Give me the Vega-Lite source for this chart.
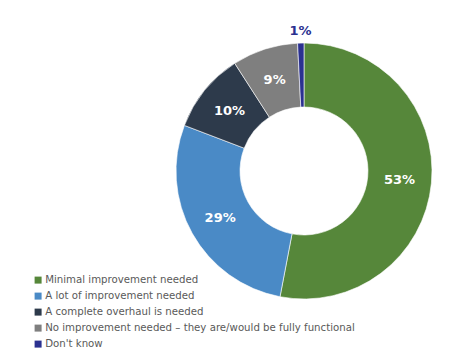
{
  "$schema": "https://vega.github.io/schema/vega-lite/v6.json",
  "width": 256,
  "height": 256,
  "autosize": {"type": "none"},
  "padding": {"left": 176, "top": 43, "right": 38, "bottom": 59},
  "background": "#ffffff",
  "config": {"view": {"stroke": null}},
  "data": {
    "values": [
      {"cat": "Minimal improvement needed", "value": 53, "label": "53%", "order": 1},
      {"cat": "A lot of improvement needed", "value": 27.8, "label": "29%", "order": 2},
      {"cat": "A complete overhaul is needed", "value": 10.1, "label": "10%", "order": 3},
      {"cat": "No improvement needed – they are/would be fully functional", "value": 8.3, "label": "9%", "order": 4},
      {"cat": "Don't know", "value": 0.8, "label": "1%", "order": 5}
    ]
  },
  "encoding": {
    "theta": {"field": "value", "type": "quantitative", "stack": true},
    "order": {"field": "order", "type": "quantitative"}
  },
  "layer": [
    {
      "mark": {"type": "arc", "outerRadius": 128, "innerRadius": 64, "stroke": "#ffffff", "strokeWidth": 0.6},
      "encoding": {
        "color": {
          "field": "cat",
          "type": "nominal",
          "scale": {
            "domain": ["Minimal improvement needed", "A lot of improvement needed", "A complete overhaul is needed", "No improvement needed – they are/would be fully functional", "Don't know"],
            "range": ["#56873a", "#4a8ac6", "#2d3a4b", "#7f7f7f", "#2b3190"]
          },
          "legend": {
            "orient": "none",
            "legendX": -143,
            "legendY": 232,
            "title": null,
            "padding": 0,
            "symbolType": "square",
            "symbolSize": 49,
            "symbolStrokeWidth": 0,
            "labelFont": "DejaVu Sans",
            "labelFontSize": 10.2,
            "labelColor": "#595959",
            "labelLimit": 400,
            "labelOffset": 2,
            "rowPadding": 5
          }
        }
      }
    },
    {
      "mark": {"type": "text", "radius": 96, "font": "DejaVu Sans", "fontWeight": "bold", "fontSize": 13, "color": "#ffffff"},
      "encoding": {
        "text": {"condition": {"test": "datum.cat !== \"Don't know\"", "field": "label"}, "value": ""}
      }
    },
    {
      "mark": {"type": "text", "radius": 140, "font": "DejaVu Sans", "fontWeight": "bold", "fontSize": 13, "color": "#2b3190"},
      "encoding": {
        "text": {"condition": {"test": "datum.cat === \"Don't know\"", "field": "label"}, "value": ""}
      }
    }
  ]
}
